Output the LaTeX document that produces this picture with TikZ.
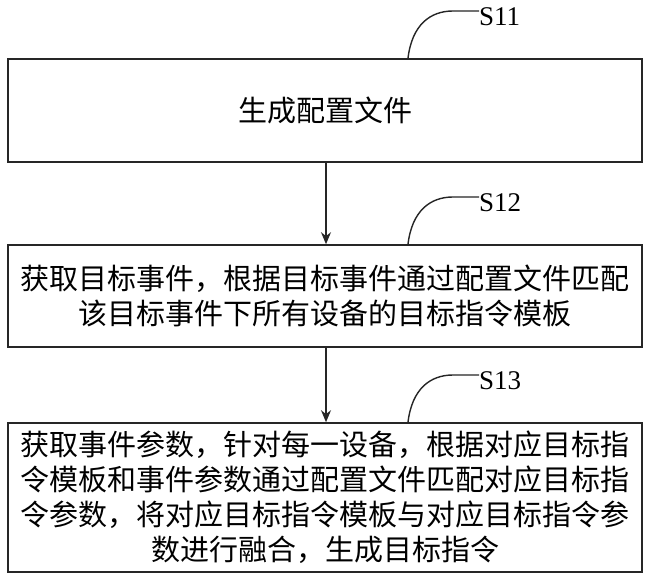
\documentclass[tikz,border=0pt]{standalone}
\usepackage{fontspec}
\setmainfont{Liberation Serif}
\newfontfamily\cjk{Noto Sans CJK SC}
\usetikzlibrary{arrows.meta}
\begin{document}
\begin{tikzpicture}[x=1pt,y=-1pt,
  box/.style={draw=black!85, line width=1.6pt, minimum width=634pt, inner sep=0pt, align=center,
     font=\cjk\fontsize{29}{35}\selectfont},
  arr/.style={draw=black!85, line width=1.4pt, -{Stealth[length=12pt,width=10pt]}},
  lead/.style={draw=black!85, line width=1.4pt},
  lbl/.style={anchor=west, inner sep=0pt, font=\fontsize{27}{27}\selectfont}]
\useasboundingbox (0,0) rectangle (647,580);
\fill[white] (0,0) rectangle (647,580);

\node[box, minimum height=103pt] (b1) at (325,110.5) {生成配置文件};
\node[box, minimum height=102pt] (b2) at (325,296) {获取目标事件，根据目标事件通过配置文件匹配\\该目标事件下所有设备的目标指令模板};
\node[box, minimum height=149pt] (b3) at (325,497.5) {获取事件参数，针对每一设备，根据对应目标指\\令模板和事件参数通过配置文件匹配对应目标指\\令参数，将对应目标指令模板与对应目标指令参\\数进行融合，生成目标指令};

\draw[arr] (b1.south -| 326,0) -- (b2.north -| 326,0);
\draw[arr] (b2.south -| 326,0) -- (b3.north -| 326,0);

\node[lbl] (s11) at (479,17) {S11};
\node[lbl] (s12) at (479,203) {S12};
\node[lbl] (s13) at (479,381) {S13};

\coordinate (t1) at (b1.north -| 408,0);
\coordinate (t2) at (b2.north -| 408,0);
\coordinate (t3) at (b3.north -| 408,0);

\draw[lead] (t1) .. controls (412,25) and (430,11) .. (453,11) -- (s11.west |- 0,11);
\draw[lead] (t2) .. controls (412,211) and (430,197) .. (453,197) -- (s12.west |- 0,197);
\draw[lead] (t3) .. controls (412,389) and (430,375) .. (453,375) -- (s13.west |- 0,375);
\end{tikzpicture}
\end{document}
